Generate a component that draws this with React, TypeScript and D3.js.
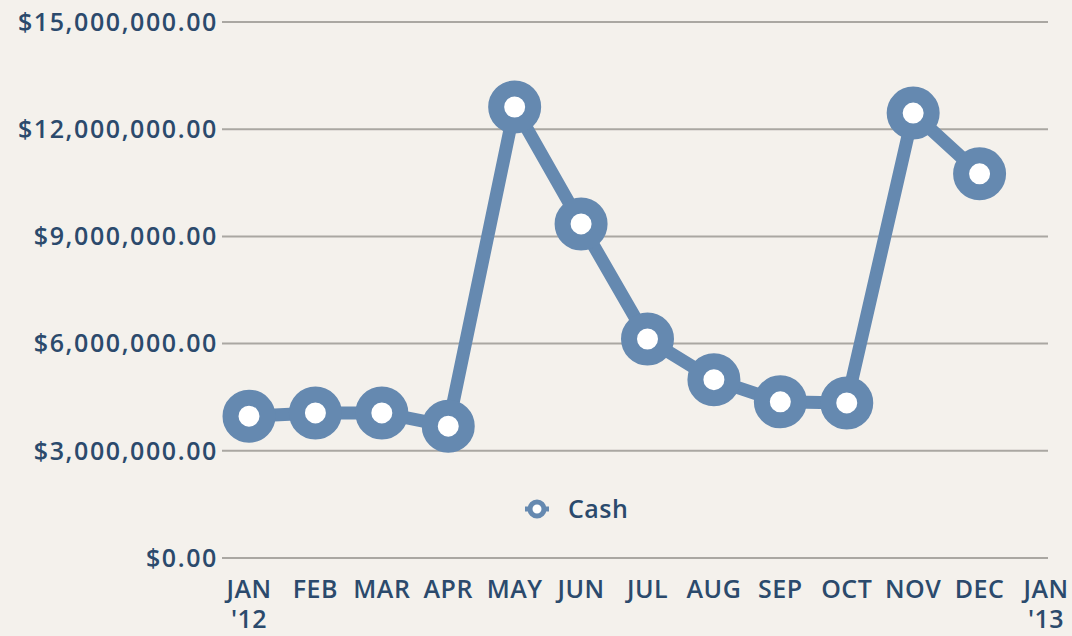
import React from "react";
import * as d3 from "d3";

const months = ["JAN\n'12", "FEB", "MAR", "APR", "MAY", "JUN", "JUL", "AUG", "SEP", "OCT", "NOV", "DEC", "JAN\n'13"];
const cash = [3970000, 4060000, 4060000, 3690000, 12620000, 9350000, 6130000, 4990000, 4370000, 4340000, 12450000, 10750000];
const yTicks = [0, 3000000, 6000000, 9000000, 12000000, 15000000];
const seriesName = "Cash";

const W = 1072, H = 636;
const LINE = "#6589b0";
const TEXT = "#2b4a6c";
const FONT = "'Open Sans', 'DejaVu Sans', sans-serif";

export default function App() {
  const x = d3.scaleLinear().domain([0, 12]).range([249, 1046]);
  const y = d3.scaleLinear().domain([0, 15000000]).range([558, 22]);
  const line = d3.line<number>().x((_, i) => x(i)).y((d) => y(d));
  const fmt = (v: number) => "$" + d3.format(",.2f")(v);
  return (
    <svg width={W} height={H} style={{ position: "absolute", left: 0, top: 0, background: "#f4f1ec" }}>
      <rect width={W} height={H} fill="#f4f1ec" />
      {yTicks.map((t) => (
        <g key={t}>
          <line x1={222} x2={1048} y1={y(t)} y2={y(t)} stroke="#aaa7a2" strokeWidth={2} />
          <text x={218} y={y(t)} dy="0.35em" textAnchor="end" fill={TEXT} fontFamily={FONT} fontWeight={600} fontSize={25} letterSpacing={1.6}>
            {fmt(t)}
          </text>
        </g>
      ))}
      {months.map((m, i) => (
        <text key={i} x={x(i)} y={598} textAnchor="middle" fill={TEXT} fontFamily={FONT} fontWeight={600} fontSize={25} letterSpacing={0.5}>
          {m.split("\n").map((s, j) => (
            <tspan key={j} x={x(i)} dy={j === 0 ? 0 : 30}>{s}</tspan>
          ))}
        </text>
      ))}
      <path d={line(cash) || ""} fill="none" stroke={LINE} strokeWidth={13} strokeLinejoin="round" />
      {cash.map((v, i) => (
        <circle key={i} cx={x(i)} cy={y(v)} r={18.5} fill="#ffffff" stroke={LINE} strokeWidth={16} />
      ))}
      <g>
        <circle cx={537} cy={509} r={7} fill="#fff" stroke={LINE} strokeWidth={5} />
        <line x1={525} x2={530} y1={509} y2={509} stroke={LINE} strokeWidth={5} />
        <line x1={544} x2={549} y1={509} y2={509} stroke={LINE} strokeWidth={5} />
        <text x={568} y={509} dy="0.35em" fill={TEXT} fontFamily={FONT} fontWeight={600} fontSize={25} letterSpacing={0.5}>{seriesName}</text>
      </g>
    </svg>
  );
}
